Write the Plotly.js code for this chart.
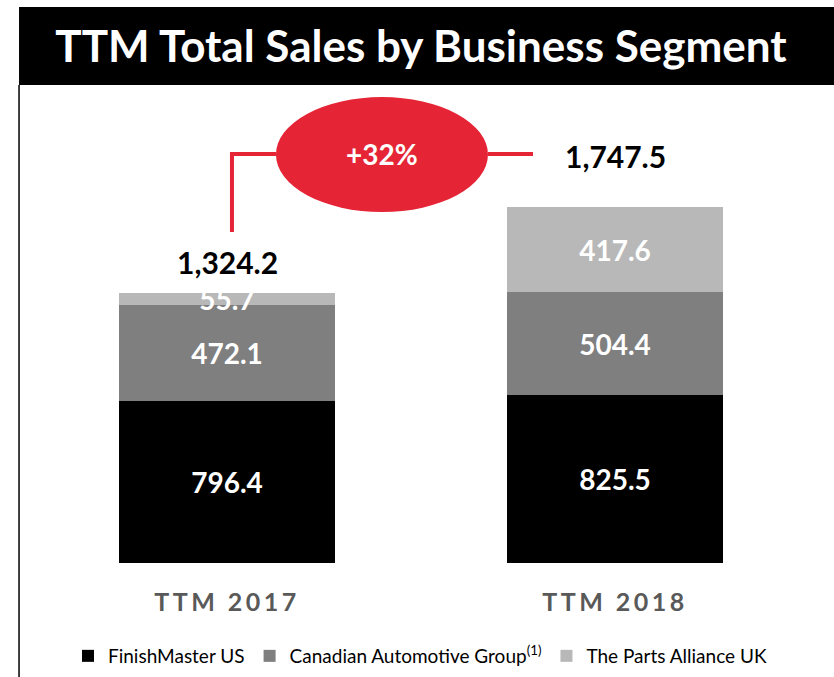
<!DOCTYPE html>
<html>
<head>
<meta charset="utf-8">
<script src="https://cdn.plot.ly/plotly-3.0.1.min.js"></script>
<style>
  body { margin: 0; background: #fff; }
  #chart { width: 834px; height: 677px; }
  .xtick text { letter-spacing: 3.5px; }
</style>
</head>
<body>
<div id="chart"></div>
<script>
// TTM sales by segment, millions
var periods = ['TTM 2017', 'TTM 2018'];
var finishMasterUS = [796.4, 825.5];
var canadianGroup = [472.1, 504.4];
var partsAllianceUK = [55.7, 417.6];
var seriesNames = ['FinishMaster US', 'Canadian Automotive Group<sup>(1)</sup>', 'The Parts Alliance UK'];
var seriesColors = ['#000000', '#7f7f7f', '#b8b8b8'];

var totals = periods.map(function (p, i) {
    return finishMasterUS[i] + canadianGroup[i] + partsAllianceUK[i];
});
var growth = Math.round((totals[1] / totals[0] - 1) * 100);

function fmt(v) {
    return v.toLocaleString('en-US', {minimumFractionDigits: 1, maximumFractionDigits: 1});
}

var font = 'Lato, "Open Sans", sans-serif';

function segment(values, idx) {
    return {
        type: 'bar',
        x: periods,
        y: values,
        name: seriesNames[idx],
        marker: {color: seriesColors[idx]},
        text: values.map(fmt),
        textposition: 'inside',
        insidetextanchor: 'middle',
        constraintext: 'none',
        cliponaxis: false,
        textfont: {family: font, size: 28, color: '#ffffff', weight: 'bold'},
        hoverinfo: 'x+y+name'
    };
}

var data = [
    segment(finishMasterUS, 0),
    segment(canadianGroup, 1),
    segment(partsAllianceUK, 2)
];

var red = '#e52535';

var layout = {
    width: 834,
    height: 677,
    margin: {l: 33, r: 25, t: 90, b: 114},
    paper_bgcolor: '#ffffff',
    plot_bgcolor: '#ffffff',
    barmode: 'stack',
    bargap: 0.443,
    showlegend: true,
    title: {
        text: '<b>TTM Total Sales by Business Segment</b>',
        font: {family: font, size: 44, color: '#ffffff'},
        x: 0.5, xref: 'paper', xanchor: 'center',
        y: 1 - 47 / 677, yref: 'container', yanchor: 'middle'
    },
    xaxis: {
        type: 'category',
        range: [-0.5, 1.5],
        showgrid: false,
        zeroline: false,
        showline: false,
        ticks: '',
        ticklabelstandoff: 22,
        tickfont: {family: font, size: 25, color: '#595959', weight: 'bold'}
    },
    yaxis: {
        range: [0, 2323],
        showgrid: false,
        zeroline: false,
        showticklabels: false,
        ticks: ''
    },
    legend: {
        orientation: 'h',
        x: 68 / 834, xref: 'container', xanchor: 'left',
        y: 1 - 656 / 677, yref: 'container', yanchor: 'middle',
        traceorder: 'normal',
        font: {family: font, size: 19, color: '#000000'},
        itemwidth: 30,
        itemclick: false
    },
    shapes: [
        // title band
        {type: 'rect', xref: 'paper', yref: 'paper', x0: -0.018, x1: 1.04, y0: 1.0106, y1: 1.1755,
         fillcolor: '#000000', line: {width: 0}, layer: 'below'},
        // frame line on the left
        {type: 'line', xref: 'paper', yref: 'paper', x0: -0.018, x1: -0.018, y0: 1.0106, y1: -0.25,
         line: {color: '#000000', width: 1.5}},
        // connector
        {type: 'path', xref: 'paper', yref: 'paper',
         path: 'M 0.2564 0.6998 L 0.2564 0.8647 L 0.3131 0.8647',
         line: {color: red, width: 4}},
        {type: 'line', xref: 'paper', yref: 'paper', x0: 0.5863, x1: 0.6443, y0: 0.8647, y1: 0.8647,
         line: {color: red, width: 4}},
        {type: 'circle', xref: 'paper', yref: 'paper', x0: 0.3131, x1: 0.5863, y0: 0.742, y1: 0.985,
         fillcolor: red, line: {width: 0}}
    ],
    annotations: [
        {xref: 'x', yref: 'y', x: periods[0], y: totals[0], yshift: 11, yanchor: 'bottom',
         text: '<b>' + fmt(totals[0]) + '</b>', showarrow: false,
         font: {family: font, size: 30, color: '#000000'}},
        {xref: 'x', yref: 'y', x: periods[1], y: totals[1], yshift: 31, yanchor: 'bottom',
         text: '<b>' + fmt(totals[1]) + '</b>', showarrow: false,
         font: {family: font, size: 30, color: '#000000'}},
        {xref: 'paper', yref: 'paper', x: 0.4497, y: 0.8647, xanchor: 'center', yanchor: 'middle',
         text: '<b>+' + growth + '%</b>', showarrow: false,
         font: {family: font, size: 28, color: '#ffffff'}}
    ]
};

Plotly.newPlot('chart', data, layout, {displayModeBar: false, staticPlot: true});
</script>
</body>
</html>
